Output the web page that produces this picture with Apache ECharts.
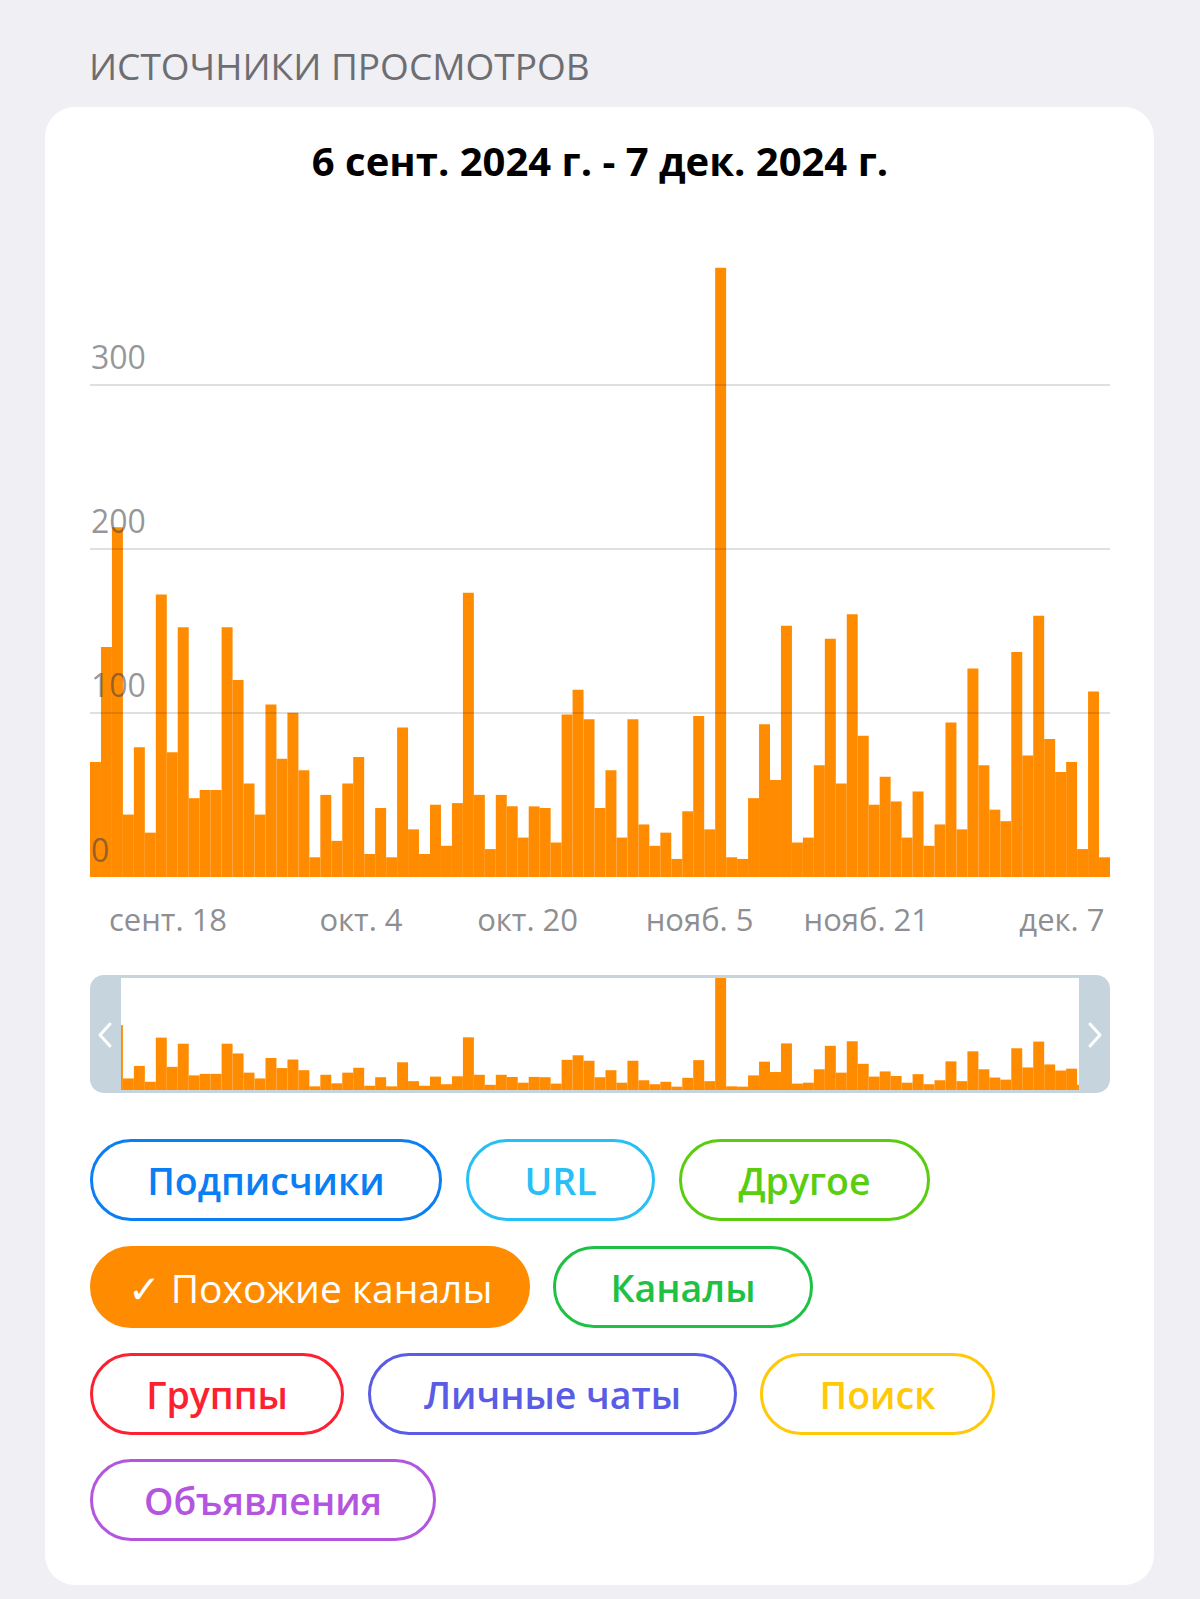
<!DOCTYPE html>
<html>
<head>
<meta charset="utf-8">
<title>Источники просмотров</title>
<script src="https://cdn.jsdelivr.net/npm/echarts@6/dist/echarts.min.js"></script>
<style>
    html, body { margin: 0; padding: 0; background: #efeff4; }
    #card {
        position: absolute; left: 45px; top: 107px; width: 1109px; height: 1478px;
        background: #fff; border-radius: 30px;
    }
    #chart { position: absolute; left: 0; top: 0; width: 1200px; height: 1599px; }
</style>
</head>
<body>
<div id="card"></div>
<div id="chart"></div>
<script>
"use strict"

// просмотры из "Похожих каналов" по дням, 6 сент. - 7 дек. 2024
const similarChannelViews = [
    70, 140, 213, 38, 79, 27, 172, 76, 152, 48,
    53, 53, 152, 120, 57, 38, 105, 72, 100, 65,
    12, 50, 22, 57, 73, 14, 42, 12, 91, 29,
    14, 44, 19, 45, 173, 50, 17, 50, 43, 24,
    43, 42, 21, 99, 114, 96, 42, 65, 24, 96,
    32, 19, 27, 11, 40, 98, 29, 371, 12, 11,
    48, 93, 59, 153, 21, 24, 68, 145, 57, 160,
    86, 44, 61, 46, 24, 52, 19, 32, 94, 29,
    127, 68, 41, 34, 137, 74, 159, 84, 64, 70,
    17, 113, 12
];
const monthShort = ["янв.", "февр.", "марта", "апр.", "мая", "июня", "июля", "авг.", "сент.", "окт.", "нояб.", "дек."];
// подписи дней: сент. 6 ... дек. 7
const categories = similarChannelViews.map(function (v, i) {
    let d = new Date(2024, 8, 6 + i);
    return monthShort[d.getMonth()] + " " + d.getDate();
});
const xTickLabels = ["сент. 18", "окт. 4", "окт. 20", "нояб. 5", "нояб. 21", "дек. 7"];
const yTicks = [0, 100, 200, 300];

const sourceNames = ["Подписчики", "URL", "Другое", "Похожие каналы", "Каналы", "Группы", "Личные чаты", "Поиск", "Объявления"];
const sourceColors = ["#0b7ef4", "#27bff5", "#5acd10", "#ff8c00", "#1fc145", "#fc2131", "#5b5ce6", "#ffc90a", "#b455e0"];
const selectedSource = "Похожие каналы";

const ORANGE = "#ff8c00";
const NAV = "#c6d4de";
const FONT = "Open Sans";

// положение кнопок-фильтров [x, y, ширина]
const pillBoxes = [
    [90, 1139, 352], [466, 1139, 189], [679, 1139, 251],
    [90, 1246, 440], [553, 1246, 260],
    [90, 1353, 254], [368, 1353, 369], [760, 1353, 235],
    [90, 1459, 346]
];

function pills() {
    let els = [];
    sourceNames.forEach(function (name, i) {
        let b = pillBoxes[i];
        let on = name === selectedSource;
        els.push({
            type: "rect", z: 100,
            shape: { x: b[0] + 1.5, y: b[1] + 1.5, width: b[2] - 3, height: 79, r: 40 },
            style: { fill: on ? ORANGE : "#fff", stroke: on ? ORANGE : sourceColors[i], lineWidth: 3 }
        });
        els.push({
            type: "text", z: 101,
            style: {
                text: on ? "✓ " + name : name,
                x: b[0] + b[2] / 2, y: b[1] + 41,
                align: "center", verticalAlign: "middle",
                fontSize: on ? 39 : 37.5, fontWeight: on ? 500 : 600, fontFamily: FONT,
                fill: on ? "#fff" : sourceColors[i]
            }
        });
    });
    return els;
}

// ручки навигатора (белая подложка прячет столбики под скруглением)
function navigator() {
    return [
        { type: "rect", z: 99, shape: { x: 86, y: 972, width: 35, height: 125 }, style: { fill: "#fff" } },
        { type: "rect", z: 99, shape: { x: 1079, y: 972, width: 35, height: 125 }, style: { fill: "#fff" } },
        { type: "rect", z: 100, shape: { x: 90, y: 975, width: 31, height: 118, r: [14, 0, 0, 14] }, style: { fill: NAV } },
        { type: "rect", z: 100, shape: { x: 1079, y: 975, width: 31, height: 118, r: [0, 14, 14, 0] }, style: { fill: NAV } },
        { type: "rect", z: 100, shape: { x: 121, y: 975, width: 958, height: 3 }, style: { fill: NAV } },
        { type: "rect", z: 100, shape: { x: 121, y: 1090, width: 958, height: 3 }, style: { fill: NAV } },
        { type: "polyline", z: 101, shape: { points: [[110, 1024], [100, 1035], [110, 1046]] },
            style: { stroke: "#fff", lineWidth: 3, fill: null, lineCap: "round", lineJoin: "round" } },
        { type: "polyline", z: 101, shape: { points: [[1090, 1024], [1100, 1035], [1090, 1046]] },
            style: { stroke: "#fff", lineWidth: 3, fill: null, lineCap: "round", lineJoin: "round" } }
    ];
}

let myChart = echarts.init(document.getElementById("chart"), null, { renderer: "svg" });
let option = {
    animation: false,
    backgroundColor: "transparent",
    grid: [
        { left: 90, top: 220, width: 1020, height: 657 },
        { left: 90, top: 977, width: 1020, height: 113 }
    ],
    xAxis: [{
        type: "category",
        data: categories,
        axisLine: { show: false },
        axisTick: { show: false },
        axisLabel: {
            interval: function (idx, val) { return xTickLabels.indexOf(val) >= 0; },
            align: "right",
            margin: 26,
            fontSize: 31,
            fontFamily: FONT,
            color: "#8e8e93"
        }
    }, {
        type: "category",
        gridIndex: 1,
        data: categories,
        show: false
    }],
    yAxis: [{
        type: "value",
        min: 0,
        max: 400,
        interval: 100,
        z: 5,
        axisLine: { show: false },
        axisTick: { show: false },
        splitLine: {
            showMinLine: false,
            showMaxLine: false,
            lineStyle: { color: "rgba(0,0,0,0.12)", width: 2 }
        },
        axisLabel: {
            inside: true,
            showMaxLabel: false,
            margin: 1,
            verticalAlign: "bottom",
            lineHeight: 32,
            padding: [0, 0, 12, 0],
            fontSize: 32,
            fontFamily: FONT,
            color: "rgba(60,60,67,0.55)",
            formatter: function (v) { return yTicks.indexOf(v) >= 0 ? String(v) : ""; }
        }
    }, {
        type: "value",
        gridIndex: 1,
        min: 0,
        max: "dataMax",
        show: false
    }],
    series: [{
        name: selectedSource,
        type: "bar",
        data: similarChannelViews,
        barCategoryGap: "0%",
        itemStyle: { color: ORANGE }
    }, {
        type: "bar",
        xAxisIndex: 1,
        yAxisIndex: 1,
        data: similarChannelViews,
        barCategoryGap: "0%",
        silent: true,
        itemStyle: { color: ORANGE }
    }],
    graphic: [
        {
            type: "text", z: 100,
            style: { text: "ИСТОЧНИКИ ПРОСМОТРОВ", x: 89, y: 65, verticalAlign: "middle",
                fontSize: 37, fontFamily: FONT, fill: "#6d6d72" }
        },
        {
            type: "text", z: 100,
            style: { text: "6 сент. 2024 г. - 7 дек. 2024 г.", x: 600, y: 160, align: "center", verticalAlign: "middle",
                fontSize: 40, fontWeight: "bold", fontFamily: FONT, fill: "#000" }
        }
    ].concat(navigator(), pills())
};
option && myChart.setOption(option);
</script>
</body>
</html>
